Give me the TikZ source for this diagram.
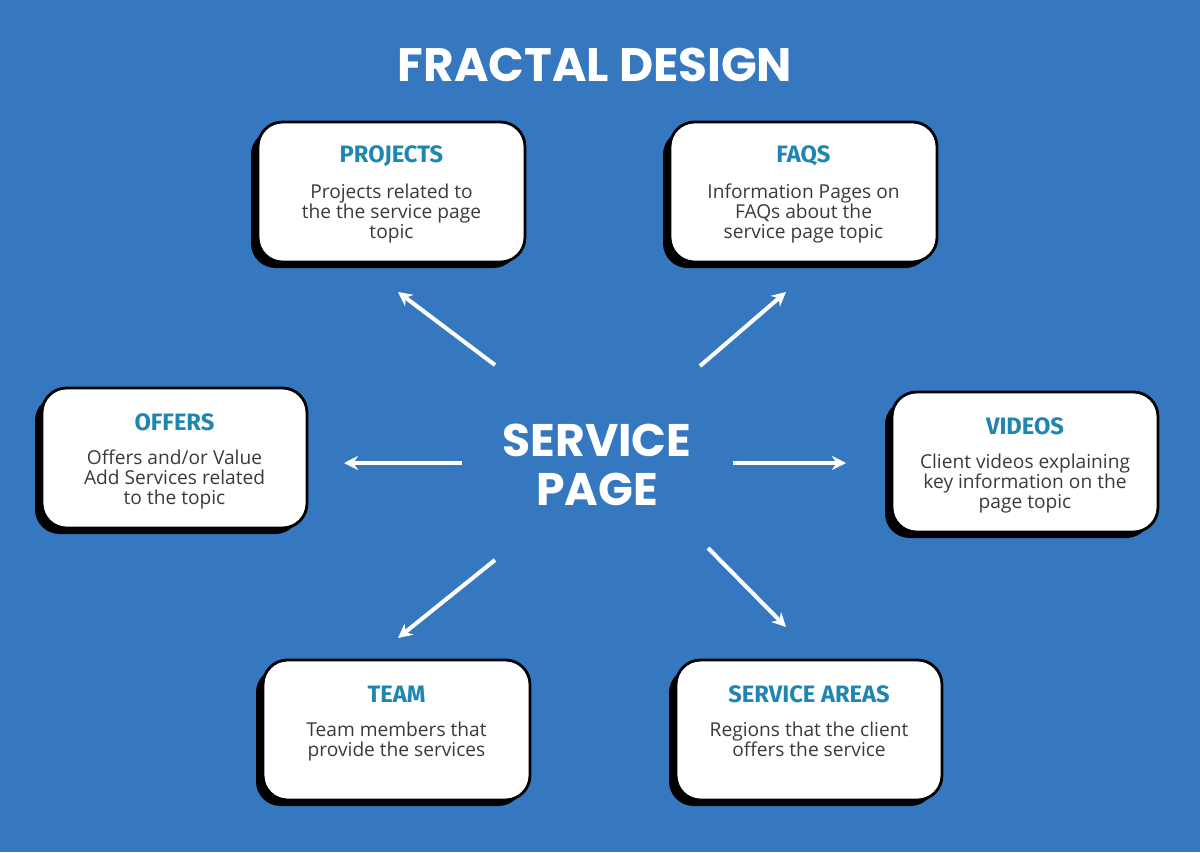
\documentclass[tikz,border=0pt]{standalone}
\usepackage{fontspec}
\setmainfont{Open Sans}
\newfontfamily\pop{Poppins}
\newfontfamily\fira{Fira Sans}
\usetikzlibrary{arrows.meta}
\definecolor{bg}{HTML}{3578C0}
\definecolor{ttl}{HTML}{1E86B0}
\definecolor{txt}{HTML}{3A3A3A}
\begin{document}
\begin{tikzpicture}[x=0.02cm,y=-0.02cm,
  card/.style={draw=black,line width=1.6pt,fill=white,rounded corners=14pt},
  shad/.style={fill=black,rounded corners=14pt},
  head/.style={font=\fira\bfseries\fontsize{13.5}{15}\selectfont,text=ttl},
  body/.style={font=\fontsize{10.9}{11.4}\selectfont,text=txt,align=center},
  arr/.style={white,line width=2.3pt,-{Stealth[length=8pt,width=8pt]}}]
\fill[bg] (0,0) rectangle (1200,852);
\useasboundingbox (0,0) rectangle (1200,852);
\node[font=\pop\bfseries\fontsize{26.7}{30}\selectfont,text=white] (title) at (595,65) {FRACTAL DESIGN};
\node[font=\pop\bfseries\fontsize{26}{27.5}\selectfont,text=white,align=center] (sp) at (597,465) {SERVICE\\PAGE};
\newcommand\card[6]{%
  \fill[shad] (#1-7,#2+8) rectangle (#3-7,#4+6);
  \draw[card] (#1,#2) rectangle (#3,#4);
  \node[head] (#5h) at ({(#1+#3)/2},#2+34) {#5};
  \node[body,anchor=north] (#5b) at ({(#1+#3)/2},#2+56) {#6};}
\card{258}{122}{525}{262}{PROJECTS}{Projects related to\\the the service page\\topic}
\card{670}{122}{937}{262}{FAQS}{Information Pages on\\FAQs about the\\service page topic}
\card{42}{388}{307}{528}{OFFERS}{Offers and/or Value\\Add Services related\\to the topic}
\card{892}{392}{1158}{532}{VIDEOS}{Client videos explaining\\key information on the\\page topic}
\card{263}{660}{530}{800}{TEAM}{Team members that\\provide the services}
\card{676}{660}{942}{800}{SERVICE AREAS}{Regions that the client\\offers the service}
\coordinate (a1) at (495,365); \coordinate (b1) at (398,292);
\coordinate (a2) at (700,366); \coordinate (b2) at (786,292);
\coordinate (a3) at (462,463); \coordinate (b3) at (344,463);
\coordinate (a4) at (733,463); \coordinate (b4) at (846,463);
\coordinate (a5) at (495,560); \coordinate (b5) at (398,638);
\coordinate (a6) at (708,548); \coordinate (b6) at (786,627);
\foreach \i in {1,...,6} \draw[arr] (a\i) -- (b\i);
\end{tikzpicture}
\end{document}
